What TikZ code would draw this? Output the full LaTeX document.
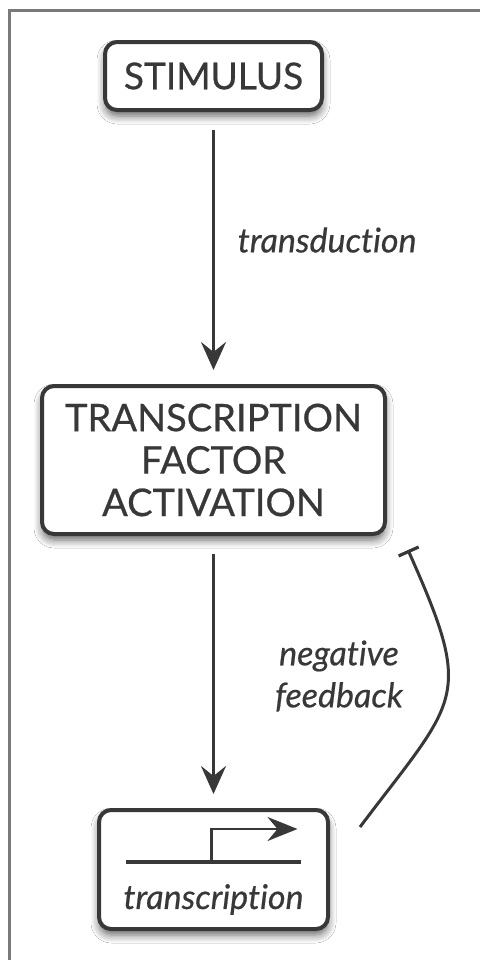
\documentclass[tikz,border=0pt]{standalone}
\usepackage{fontspec}
\setmainfont{Lato}[Ligatures=NoCommon, UprightFeatures={FakeBold=0.6}, ItalicFeatures={FakeBold=0.5}]
\usepackage{xcolor}
\usepackage{tikz}
\usetikzlibrary{arrows.meta, positioning, shadows.blur}

\definecolor{ink}{HTML}{383838}
\definecolor{framegray}{HTML}{7A7A7A}

\begin{document}
\begin{tikzpicture}[
    x=0.5pt, y=-0.5pt,
    node distance=136pt,
    box/.style={rectangle, draw=ink, line width=2pt, rounded corners=6pt, fill=white, text=ink, align=center,
        blur shadow={shadow xshift=0pt, shadow yshift=-3pt, shadow blur steps=6, shadow blur radius=4pt, shadow opacity=60}},
    lbl/.style={font=\itshape\fontsize{17}{21}\selectfont, text=ink, align=center},
    arrow/.style={-{Stealth[length=14pt, width=12.5pt, inset=5pt]}, line width=1.6pt, draw=ink, shorten <=9pt, shorten >=7pt},
    inhibit/.style={-{Bar[width=11pt, line width=1.6pt]}, line width=1.5pt, draw=ink},
]
\useasboundingbox (0,0) rectangle (480,960);
\fill[white] (0,0) rectangle (480,960);
\draw[framegray, line width=1.5pt] (9,960) -- (9,10) -- (480,10);

% Cascade
\node[box, minimum width=108.5pt, minimum height=34pt, font=\fontsize{18.5}{22}\selectfont] (stim) at (213.5,76) {STIMULUS};
\node[box, below=136pt of stim, minimum width=171.5pt, minimum height=74pt, font=\fontsize{19}{21.2}\selectfont] (tf) {TRANSCRIPTION\\FACTOR\\ACTIVATION};
\node[box, below=136pt of tf, minimum width=114.5pt, minimum height=59.5pt] (gene) {};

% Gene with promoter
\coordinate (dnaL) at ([shift={(-87.5,-7.5)}]gene.center);
\coordinate (dnaR) at ([shift={(87.5,-7.5)}]gene.center);
\coordinate (prom) at ([shift={(-2,-7.5)}]gene.center);
\coordinate (promtop) at ([shift={(-2,-40.5)}]gene.center);
\coordinate (promend) at ([shift={(84,-40.5)}]gene.center);
\draw[ink, line width=1.6pt] (dnaL) -- (dnaR);
\draw[ink, line width=1.2pt, -{Stealth[length=15pt, width=12pt, inset=5pt]}] (prom) -- (promtop) -- (promend);
\node[lbl] (txlbl) at ([shift={(0,30)}]gene.center) {transcription};

\draw[arrow] (stim) -- node[lbl, right=8pt, yshift=4pt] (trd) {transduction} (tf);
\draw[arrow] (tf) -- (gene);

% Feedback
\coordinate (fbstart) at (360,827);
\coordinate (fbend) at (408,550);
\draw[inhibit] (fbstart) .. controls (458,697) and (475,700) .. (fbend);
\node[lbl] (neg) at (339,676) {negative\\feedback};

\end{tikzpicture}
\end{document}
